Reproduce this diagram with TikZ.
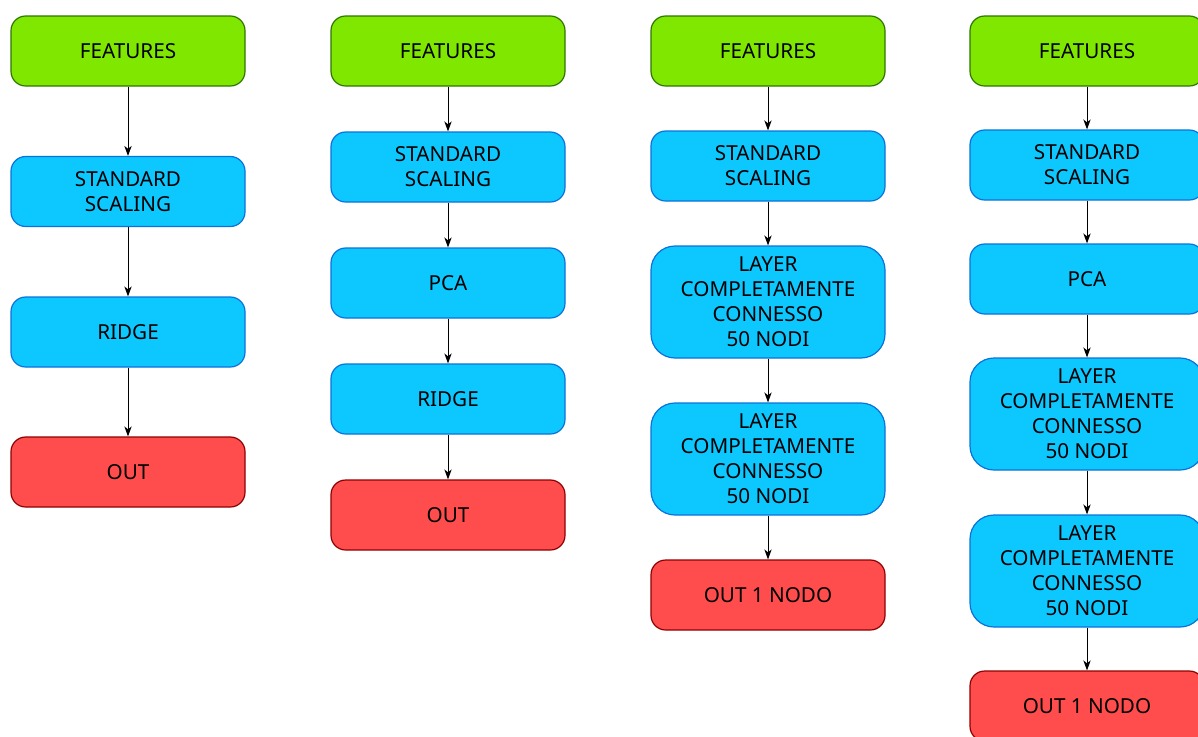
\documentclass[tikz,border=0pt]{standalone}
\usepackage{fontspec}
\setmainfont{Noto Sans}
\usetikzlibrary{arrows.meta}
\definecolor{gfill}{HTML}{80E800}
\definecolor{gdraw}{HTML}{2D7600}
\definecolor{bfill}{HTML}{0DC8FF}
\definecolor{bdraw}{HTML}{0A72DA}
\definecolor{rfill}{HTML}{FF4D4D}
\definecolor{rdraw}{HTML}{8F0000}
\tikzset{
  box/.style={draw, line width=0.9pt, rounded corners=11pt, minimum width=175.5pt, minimum height=52.5pt,
    inner sep=0pt, align=center, font=\fontsize{15.5pt}{18.8pt}\selectfont, text=black},
  tallbox/.style={box, minimum height=84pt, rounded corners=18pt},
  feat/.style={box, fill=gfill, draw=gdraw},
  proc/.style={box, fill=bfill, draw=bdraw},
  layer/.style={tallbox, fill=bfill, draw=bdraw},
  outb/.style={box, fill=rfill, draw=rdraw},
  conn/.style={draw=black, line width=0.75pt, -{Stealth[length=7.5pt,width=5.5pt,inset=2.2pt]}}
}
\begin{document}
\begin{tikzpicture}[x=0.75pt,y=-0.75pt]
\useasboundingbox (0,0) rectangle (1198,736);
\clip (0,0) rectangle (1198,736);
% column 1
\node[feat] (a1) at (128,51) {FEATURES};
\node[proc] (a2) at (128,191.5) {STANDARD\\SCALING};
\node[proc] (a3) at (128,332) {RIDGE};
\node[outb] (a4) at (128,472) {OUT};
\draw[conn] (a1) -- (a2);
\draw[conn] (a2) -- (a3);
\draw[conn] (a3) -- (a4);
% column 2
\node[feat] (b1) at (448,51) {FEATURES};
\node[proc] (b2) at (448,167) {STANDARD\\SCALING};
\node[proc] (b3) at (448,283) {PCA};
\node[proc] (b4) at (448,399) {RIDGE};
\node[outb] (b5) at (448,515) {OUT};
\draw[conn] (b1) -- (b2);
\draw[conn] (b2) -- (b3);
\draw[conn] (b3) -- (b4);
\draw[conn] (b4) -- (b5);
% column 3
\node[feat] (c1) at (768,51) {FEATURES};
\node[proc] (c2) at (768,166) {STANDARD\\SCALING};
\node[layer] (c3) at (768,302) {LAYER\\COMPLETAMENTE\\CONNESSO\\50 NODI};
\node[layer] (c4) at (768,459) {LAYER\\COMPLETAMENTE\\CONNESSO\\50 NODI};
\node[outb] (c5) at (768,595) {OUT 1 NODO};
\draw[conn] (c1) -- (c2);
\draw[conn] (c2) -- (c3);
\draw[conn] (c3) -- (c4);
\draw[conn] (c4) -- (c5);
% column 4
\node[feat] (d1) at (1087,51) {FEATURES};
\node[proc] (d2) at (1087,165) {STANDARD\\SCALING};
\node[proc] (d3) at (1087,279) {PCA};
\node[layer] (d4) at (1087,414) {LAYER\\COMPLETAMENTE\\CONNESSO\\50 NODI};
\node[layer] (d5) at (1087,571) {LAYER\\COMPLETAMENTE\\CONNESSO\\50 NODI};
\node[outb] (d6) at (1087,706) {OUT 1 NODO};
\draw[conn] (d1) -- (d2);
\draw[conn] (d2) -- (d3);
\draw[conn] (d3) -- (d4);
\draw[conn] (d4) -- (d5);
\draw[conn] (d5) -- (d6);
\end{tikzpicture}
\end{document}
